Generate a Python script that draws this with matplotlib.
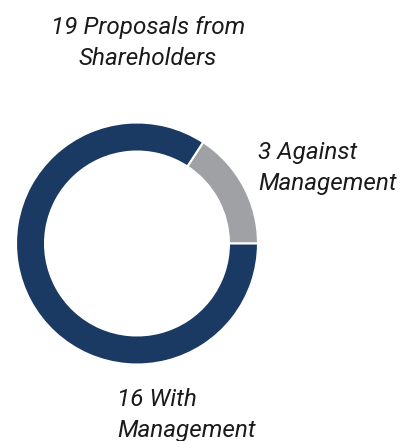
import matplotlib
matplotlib.use("Agg")
import matplotlib.pyplot as plt

categories = ["Against Management", "With Management"]
values = [3, 16]
labels = ["3 Against\nManagement", "16 With\nManagement"]
title = "19 Proposals from\nShareholders"
colors = ["#a0a1a5", "#1a3a63"]

W, H = 402, 441
fig = plt.figure(figsize=(W / 100, H / 100), dpi=100)
cx, cy, r = 137, 243.5, 121
ax = fig.add_axes([(cx - r) / W, (H - cy - r) / H, 2 * r / W, 2 * r / H])
ax.pie(values, colors=colors, startangle=0, counterclock=True, radius=1,
       wedgeprops=dict(width=0.24, edgecolor="white", linewidth=1.5))
ax.set_xlim(-1, 1)
ax.set_ylim(-1, 1)
ax.set_aspect("auto")
ax.axis("off")

font = dict(family=["Roboto", "DejaVu Sans"], style="italic", fontweight="normal",
            fontsize=17.5, color="#1a1a1a", linespacing=1.42)

fig.text(148 / W, 1 - 65 / H, title, ha="center", va="baseline", multialignment="center", **font)
fig.text(258 / W, 1 - 190 / H, labels[0], ha="left", va="baseline", multialignment="left", **font)
fig.text(117 / W, 1 - 437 / H, labels[1], ha="left", va="baseline", multialignment="left", **font)

fig.savefig("out.png", dpi=100)
